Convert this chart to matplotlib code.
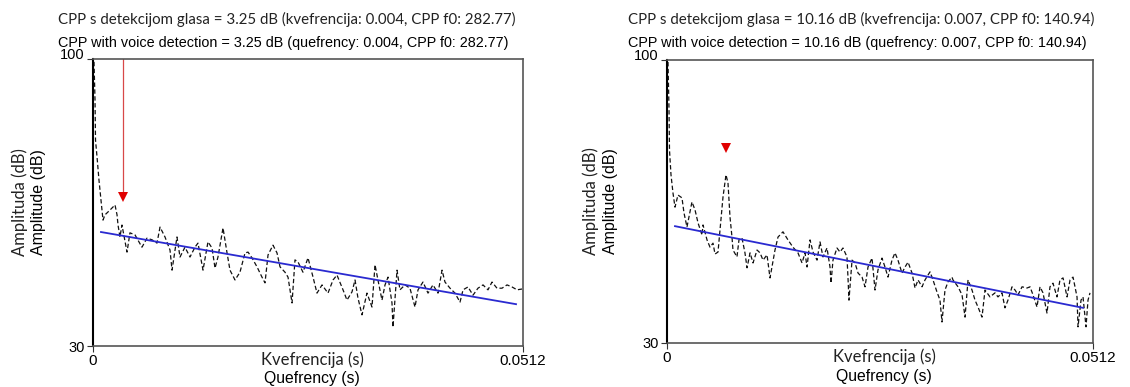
import matplotlib
matplotlib.use("Agg")
import matplotlib.pyplot as plt
import numpy as np

W, H = 1130, 387

# ---------------- data (quefrency in ms, amplitude in dB) ----------------
left_q = [0.12, 0.24, 0.30, 0.48, 0.71, 0.95, 1.19, 1.43, 1.79, 2.14, 2.62, 2.86, 2.98, 3.21, 3.45,
          4.05, 4.40, 5.00, 5.83, 6.43, 7.03, 7.62, 7.98, 8.57, 9.17, 9.41, 10.00, 10.36, 10.95,
          11.55, 12.14, 12.50, 13.10, 13.69, 14.17, 14.53, 14.88, 15.48, 15.96, 16.31, 16.91,
          17.50, 18.10, 18.46, 18.93, 19.53, 20.12, 20.48, 20.84, 21.43, 21.91, 22.27, 22.86,
          23.22, 23.70, 24.05, 24.41, 25.00, 25.60, 26.20, 26.67, 27.27, 27.98, 28.58, 29.05,
          29.77, 30.24, 30.84, 31.20, 31.55, 32.03, 32.62, 33.22, 33.58, 33.93, 34.41, 34.77,
          35.13, 35.60, 35.72, 36.20, 36.55, 37.15, 37.74, 38.34, 38.70, 39.29, 39.89, 40.48,
          41.08, 41.56, 41.91, 42.51, 43.10, 43.70, 44.06, 44.65, 45.25, 45.84, 46.44, 47.03,
          47.51, 48.10, 48.70, 49.30, 49.89, 50.49, 51.08]
left_db = [99.3, 90.0, 80.2, 76.1, 70.5, 65.6, 60.7, 62.0, 62.7, 63.4, 64.4, 62.0, 59.5, 56.6, 59.5,
           52.9, 57.6, 57.1, 54.1, 56.3, 55.9, 55.1, 59.0, 56.6, 53.4, 48.5, 56.6, 51.7, 54.1,
           51.7, 54.1, 55.1, 48.5, 55.4, 53.9, 49.0, 51.7, 58.8, 52.7, 48.5, 46.1,
           48.0, 52.7, 52.9, 51.5, 49.3, 46.8, 45.4, 52.2, 54.6, 52.7, 49.3, 48.0,
           46.8, 40.5, 51.0, 50.5, 48.0, 51.5, 46.8, 42.9, 44.9, 42.9, 46.1, 47.3,
           43.7, 41.2, 43.2, 46.1, 41.7, 37.6, 42.9, 39.5, 49.8, 46.1, 41.2, 44.9,
           46.8, 40.5, 34.6, 48.5, 43.7, 44.9, 44.1, 39.5, 43.7, 45.6, 42.9, 44.9,
           42.9, 48.5, 45.6, 44.1, 42.9, 40.7, 43.7, 44.4, 42.4, 44.1, 44.9, 43.7,
           45.6, 44.1, 44.1, 44.9, 44.4, 43.7, 43.9]

right_q = [0.12, 0.24, 0.30, 0.48, 0.72, 0.96, 1.32, 1.80, 2.04, 2.40, 3.00, 3.37, 3.73, 4.21, 4.33,
           4.81, 5.17, 5.53, 5.77, 6.13, 6.37, 6.73, 7.09, 7.33, 7.57, 7.81, 7.93, 8.41, 8.65,
           9.01, 9.37, 9.62, 9.98, 10.34, 10.82, 11.18, 11.54, 12.02, 12.38, 12.98, 13.34, 13.94,
           14.54, 15.14, 15.74, 16.23, 16.59, 16.83, 17.19, 17.55, 18.03, 18.39, 18.75, 19.23,
           19.59, 19.71, 19.95, 20.43, 20.79, 21.15, 21.63, 21.75, 21.87, 22.24, 22.60, 22.96,
           23.44, 23.80, 24.16, 24.64, 25.00, 25.36, 25.84, 26.20, 26.56, 27.04, 27.40, 27.76,
           28.24, 28.61, 28.97, 29.45, 29.81, 30.17, 30.65, 31.01, 31.61, 31.97, 32.45, 32.81,
           33.05, 33.41, 33.77, 34.25, 34.37, 34.98, 35.46, 35.82, 36.18, 36.66, 37.02, 37.38,
           37.86, 38.22, 38.82, 39.42, 39.78, 40.26, 40.62, 40.98, 41.47, 41.83, 42.19, 42.67,
           43.27, 43.63, 43.99, 44.47, 44.83, 45.19, 45.67, 46.03, 46.39, 46.87, 47.23, 47.60,
           48.08, 48.44, 48.80, 49.28, 49.40, 49.76, 50.00, 50.36, 50.60, 50.84]
right_db = [99.5, 88.0, 77.7, 71.6, 67.1, 63.6, 66.6, 65.9, 62.2, 58.7, 64.9, 62.9, 59.7, 56.7, 59.2,
            55.5, 53.7, 54.7, 52.0, 52.5, 58.0, 66.1, 71.6, 69.6, 61.2, 56.2, 53.0, 51.3, 55.5,
            56.0, 52.3, 48.6, 52.3, 49.8, 53.0, 52.3, 50.5, 51.8, 46.1, 53.0, 56.2, 57.5,
            55.5, 53.7, 52.3, 49.8, 52.3, 48.8, 55.5, 52.5, 50.5, 55.0, 51.3, 53.5,
            48.8, 44.8, 50.5, 53.5, 52.5, 53.5, 51.3, 46.3, 40.6, 50.5, 49.8, 47.3,
            46.3, 43.9, 48.8, 51.0, 43.1, 48.1, 51.0, 48.8, 46.3, 50.5, 52.3, 50.5,
            47.3, 48.8, 50.0, 47.3, 43.6, 45.6, 43.9, 45.6, 47.6, 45.6, 42.6, 40.6,
            35.2, 43.1, 45.1, 46.3, 45.6, 43.9, 41.9, 36.4, 45.6, 43.1, 40.6, 38.9,
            36.4, 43.1, 41.4, 42.4, 41.4, 42.4, 38.7, 40.6, 43.9, 43.1, 41.9, 43.9,
            43.6, 43.9, 41.9, 38.9, 43.9, 42.4, 37.4, 43.9, 44.8, 41.4, 45.6, 46.1,
            41.4, 45.6, 46.3, 41.4, 34.0, 40.6, 41.4, 34.0, 40.6, 42.4]

# regression lines (endpoints: quefrency ms, dB)
left_fit_q = [0.95, 50.37]
left_fit_db = [57.8, 40.2]
right_fit_q = [0.96, 50.0]
right_fit_db = [58.9, 38.7]

# CPP peaks
left_f0 = 282.77
right_f0 = 140.94
left_marker_db = 66.3
right_marker_db = 78.2

titles_hr = ["CPP s detekcijom glasa = 3.25 dB (kvefrencija: 0.004, CPP f0: 282.77)",
             "CPP s detekcijom glasa = 10.16 dB (kvefrencija: 0.007, CPP f0: 140.94)"]
titles_en = ["CPP with voice detection = 3.25 dB (quefrency: 0.004, CPP f0: 282.77)",
             "CPP with voice detection = 10.16 dB (quefrency: 0.007, CPP f0: 140.94)"]

xmax = 0.0512
ymin, ymax = 30, 100

LIGHT = ["Lato", "DejaVu Sans"]
ARIAL = ["Liberation Sans", "DejaVu Sans"]

fig = plt.figure(figsize=(W / 100, H / 100), dpi=100)


def fx(px):
    return px / W


def fy(py):
    return 1 - py / H


panels = [
    dict(box=(93, 59, 523, 346), q=left_q, db=left_db, fq=left_fit_q, fdb=left_fit_db,
         f0=left_f0, mdb=left_marker_db, arrow_line=True, tx=58, ylx=(20, 38)),
    dict(box=(667, 60, 1093, 343), q=right_q, db=right_db, fq=right_fit_q, fdb=right_fit_db,
         f0=right_f0, mdb=right_marker_db, arrow_line=False, tx=628, ylx=(591, 610)),
]

for i, p in enumerate(panels):
    x0, y0, x1, y1 = p["box"]
    ax = fig.add_axes([fx(x0), fy(y1), (x1 - x0) / W, (y1 - y0) / H])
    q = np.array(p["q"]) / 1000.0
    ax.plot(q, p["db"], color="#111111", lw=0.9, linestyle=(0, (3.5, 2)))
    ax.plot(np.array(p["fq"]) / 1000.0, p["fdb"], color="#2a2ad0", lw=1.3)
    qpk = 1.0 / p["f0"]
    if p["arrow_line"]:
        ax.plot([qpk, qpk], [ymax, p["mdb"] + 1.0], color="#d84848", lw=0.9)
    ax.plot([qpk], [p["mdb"]], marker="v", color="#e00000", markersize=7, markeredgewidth=0)
    ax.set_xlim(0, xmax)
    ax.set_ylim(ymin, ymax)
    ax.set_xticks([0, xmax])
    ax.set_xticklabels(["0", "0.0512"], fontfamily=ARIAL, fontsize=11)
    ax.set_yticks([ymin, ymax])
    ax.set_yticklabels(["30", "100"], fontfamily=ARIAL, fontsize=10.5)
    ax.get_yticklabels()[1].set_va("baseline")
    ax.tick_params(length=4, width=0.8, pad=2, colors="#333333", labelcolor="black")
    for s in ["top", "right", "bottom"]:
        ax.spines[s].set_color("#555555")
        ax.spines[s].set_linewidth(1.2)
    ax.spines["left"].set_color("black")
    ax.spines["left"].set_linewidth(1.5)
    cx = (x0 + x1) / 2 + 4
    fig.text(fx(cx), fy(y1 + 14), "Kvefrencija (s)", fontfamily=LIGHT, fontsize=12,
             ha="center", va="center", color="#222222")
    fig.text(fx(cx), fy(y1 + 33), "Quefrency (s)", fontfamily=ARIAL, fontsize=11.3,
             ha="center", va="center", color="black")
    cy = (y0 + y1) / 2
    fig.text(fx(p["ylx"][0]), fy(cy), "Amplituda (dB)", fontfamily=LIGHT, fontsize=12,
             rotation=90, ha="center", va="center", color="#222222")
    fig.text(fx(p["ylx"][1]), fy(cy), "Amplitude (dB)", fontfamily=ARIAL, fontsize=11.5,
             rotation=90, ha="center", va="center", color="black")
    fig.text(fx(p["tx"]), fy(19), titles_hr[i], fontfamily=LIGHT, fontsize=10.8,
             ha="left", va="center", color="#222222")
    fig.text(fx(p["tx"]), fy(43), titles_en[i], fontfamily=ARIAL, fontsize=10.4,
             ha="left", va="center", color="black")

fig.savefig("out.png", dpi=100)
